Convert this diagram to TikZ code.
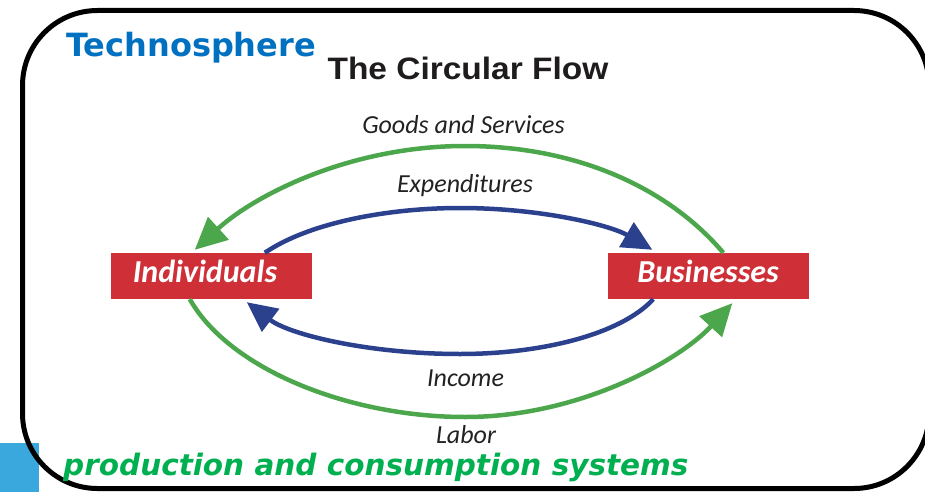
\documentclass[tikz,border=0pt]{standalone}
\usepackage{fontspec}
\setmainfont{Carlito}
\newfontfamily\verdanafont{DejaVu Sans}
\newfontfamily\arialfont{Liberation Sans}
\usetikzlibrary{arrows.meta,calc}
\definecolor{techblue}{HTML}{0070C0}
\definecolor{prodgreen}{HTML}{00B050}
\definecolor{flowgreen}{HTML}{4CA64C}
\definecolor{flowblue}{HTML}{2B418E}
\definecolor{boxred}{HTML}{CF2F37}
\definecolor{cornerblue}{HTML}{3AA8DC}
\definecolor{labelgray}{HTML}{222222}
\definecolor{titleblack}{HTML}{1E1C1C}
\begin{document}
\begin{tikzpicture}[x=1pt,y=-1pt,
  agent/.style={fill=boxred, draw=none, minimum width=201pt, minimum height=46pt, inner sep=0pt,
    text height=14pt, text depth=2pt, text=white, font=\fontsize{32}{36}\selectfont\bfseries\itshape},
  flowlabel/.style={anchor=base, inner sep=0pt, text=labelgray, font=\fontsize{26}{30}\selectfont\itshape},
  greenflow/.style={draw=flowgreen, line width=4.5pt, -{Triangle[length=32pt,width=30pt]}},
  blueflow/.style={draw=flowblue, line width=4.5pt, -{Triangle[length=30pt,width=28pt]}},
]
\useasboundingbox (0,0) rectangle (925,492);
\fill[cornerblue] (0,443) rectangle (39,492);
\draw[line width=5pt, rounded corners=75pt] (22.5,10.5) rectangle (929,488.5);

\node[anchor=base west, inner sep=0pt, text=techblue, font=\verdanafont\bfseries\fontsize{32}{36}\selectfont] (techno) at (66,57) {Technosphere};
\node[anchor=base, inner sep=0pt, text=titleblack, font=\arialfont\bfseries\fontsize{31}{36}\selectfont, xscale=1.08, transform shape] (title) at (468,80) {The Circular Flow};

\node[agent] (ind) at (211.5,276) {\hspace*{-13pt}Individuals};
\node[agent] (bus) at (708,276) {Businesses};

\node[flowlabel] (goods) at (463.5,133) {Goods and Services};
\node[flowlabel] (exp) at (465,192) {Expenditures};
\node[flowlabel] (inc) at (465.5,386) {Income};
\node[flowlabel] (lab) at (466,443) {Labor};

\draw[greenflow] ($(bus.north west)+(116,0)$) .. controls (670,190) and (580,146) .. (465,146)
   .. controls (350,146) and (255,195) .. ($(ind.north west)+(84,-3)$);
\draw[greenflow] ($(ind.south west)+(79,0)$) .. controls (230,370) and (350,417) .. (465,417)
   .. controls (580,417) and (680,360) .. ($(bus.south west)+(125,4)$);
\draw[blueflow] ($(ind.north west)+(154,0)$) .. controls (310,222) and (390,208) .. (460,208)
   .. controls (540,208) and (610,225) .. ($(bus.north west)+(45,-3)$);
\draw[blueflow] ($(bus.south west)+(46,0)$) .. controls (620,335) and (540,354) .. (460,354)
   .. controls (370,354) and (290,335) .. ($(ind.south west)+(136,3)$);

\node[anchor=base west, inner sep=0pt, text=prodgreen, font=\verdanafont\bfseries\itshape\fontsize{29.5}{34}\selectfont] (prod) at (63,475) {production and consumption systems};
\end{tikzpicture}
\end{document}
